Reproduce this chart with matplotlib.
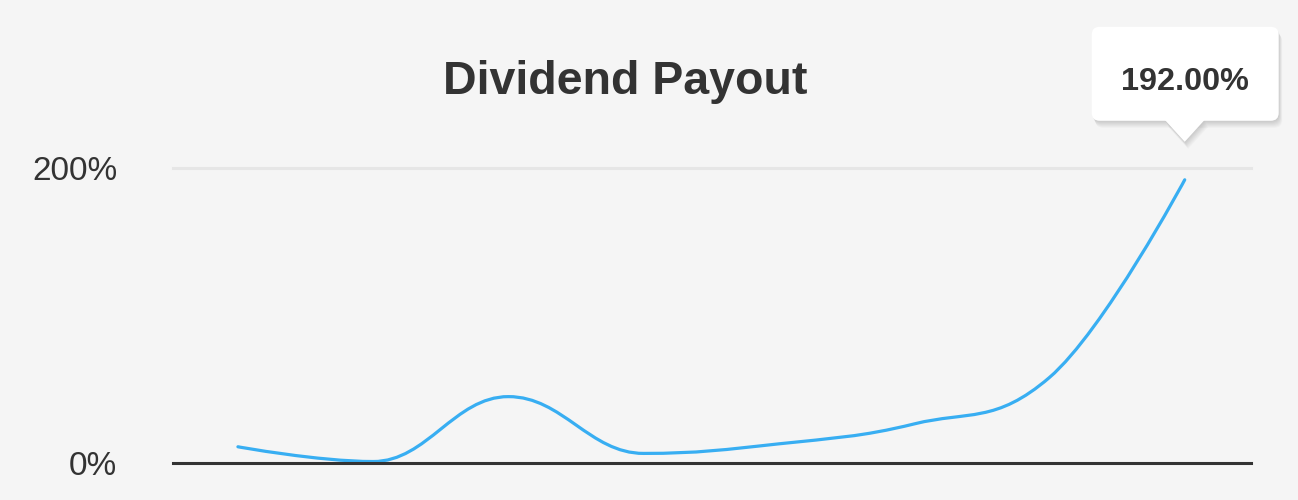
import matplotlib
matplotlib.use("Agg")
import matplotlib.pyplot as plt
import matplotlib.transforms as mtransforms
from matplotlib.path import Path
from matplotlib.patches import PathPatch, FancyBboxPatch, Polygon

# dati (ultimo valore evidenziato nel tooltip)
periodi = list(range(8))
payout = [11, 1, 45, 6.5, 13, 26.5, 58, 192]
tick_valori = [0, 200]
tick_etichette = ["0%", "200%"]
titolo = "Dividend Payout"

plt.rcParams["font.family"] = ["Liberation Sans", "DejaVu Sans"]
sfondo = "#f5f5f5"
testo = "#333333"
blu = "#38aef2"


def spline_highcharts(xs, ys, smoothing=1.5):
    # curva tipo "spline" di Highcharts: bezier cubiche tra i punti
    denom = smoothing + 1
    n = len(xs)
    destro = [None] * n
    verts = [(xs[0], ys[0])]
    codes = [Path.MOVETO]
    for i in range(1, n):
        x, y = xs[i], ys[i]
        lx, ly = xs[i - 1], ys[i - 1]
        lcx, lcy = x, y
        if i < n - 1:
            nx, ny = xs[i + 1], ys[i + 1]
            lcx = (smoothing * x + lx) / denom
            lcy = (smoothing * y + ly) / denom
            rcx = (smoothing * x + nx) / denom
            rcy = (smoothing * y + ny) / denom
            corr = (rcy - lcy) * (rcx - x) / (rcx - lcx) + y - rcy
            lcy += corr
            rcy += corr
            if lcy > ly and lcy > y:
                lcy = max(ly, y)
                rcy = 2 * y - lcy
            elif lcy < ly and lcy < y:
                lcy = min(ly, y)
                rcy = 2 * y - lcy
            if rcy > ny and rcy > y:
                rcy = max(ny, y)
                lcy = 2 * y - rcy
            elif rcy < ny and rcy < y:
                rcy = min(ny, y)
                lcy = 2 * y - rcy
            destro[i] = (rcx, rcy)
        p0 = destro[i - 1] if destro[i - 1] else (lx, ly)
        verts += [p0, (lcx, lcy), (x, y)]
        codes += [Path.CURVE4] * 3
    return Path(verts, codes)


fig = plt.figure(figsize=(12.98, 5.0), dpi=100, facecolor=sfondo)
ax = fig.add_axes([173 / 1298, 37 / 500, 1078 / 1298, 295 / 500])
ax.set_facecolor(sfondo)

ax.set_xlim(-0.48, 7.49)
ax.set_ylim(0, 200)

for s in ax.spines.values():
    s.set_visible(False)
ax.set_xticks([])
ax.set_yticks(tick_valori)
ax.set_yticklabels(tick_etichette)
ax.tick_params(axis="y", length=0, pad=40, labelsize=24, labelcolor=testo)

ax.axhline(200, color="#e6e6e6", lw=2.2, clip_on=False, zorder=1)
ax.axhline(0, color=testo, lw=2.2, clip_on=False, zorder=3)

curva = spline_highcharts(periodi, payout)
ax.add_patch(PathPatch(curva, facecolor="none", edgecolor=blu, lw=2.3,
                       capstyle="round", clip_on=False, zorder=2))

fig.text(625 / 1298, (500 - 94) / 500, titolo, ha="center", va="baseline",
         fontsize=33.5, fontweight="bold", color=testo)

# tooltip sull'ultimo punto (offset in pixel dal punto)
px, py = ax.transData.transform((periodi[-1], payout[-1]))
tr = mtransforms.Affine2D().translate(px, py)

# ombra morbida, spostata verso il basso
for k in range(1, 8):
    dx, dy = 0.5 * k, -k
    ax.add_patch(FancyBboxPatch((-93 + dx, 59 + dy), 187, 94,
                                boxstyle="round,pad=0,rounding_size=8",
                                facecolor="black", edgecolor="none",
                                alpha=0.022, transform=tr, clip_on=False,
                                zorder=4))
    ax.add_patch(Polygon([(-20 + dx, 60 + dy), (20 + dx, 60 + dy),
                          (dx, 38 + dy)],
                         facecolor="black", edgecolor="none", alpha=0.022,
                         transform=tr, clip_on=False, zorder=4))
ax.add_patch(FancyBboxPatch((-93, 59), 187, 94,
                            boxstyle="round,pad=0,rounding_size=8",
                            facecolor="white", edgecolor="none",
                            transform=tr, clip_on=False, zorder=5))
ax.add_patch(Polygon([(-20, 60), (20, 60), (0, 38)], facecolor="white",
                     edgecolor="none", transform=tr, clip_on=False, zorder=5))
ax.text(0, 90, "%.2f%%" % payout[-1], transform=tr, ha="center",
        va="baseline", fontsize=23.3, fontweight="bold", color=testo,
        zorder=6, clip_on=False)

fig.savefig("out.png", dpi=100, facecolor=sfondo)
